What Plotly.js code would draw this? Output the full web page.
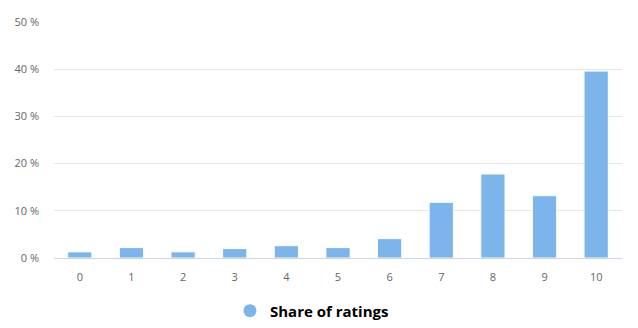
<!DOCTYPE html>
<html>
<head>
<meta charset="utf-8">
<script src="https://cdn.plot.ly/plotly-3.0.1.min.js"></script>
<style>html,body{margin:0;padding:0;background:#fff;}#chart{width:638px;height:328px;}</style>
</head>
<body>
<div id="chart"></div>
<script>
const categories = ["0","1","2","3","4","5","6","7","8","9","10"];
const shareOfRatings = [1.3, 2.2, 1.3, 2.0, 2.6, 2.2, 4.1, 11.8, 17.8, 13.2, 39.6];
const seriesName = "Share of ratings";
const yTickValues = [0, 10, 20, 30, 40, 50];
const yTickLabels = ["0 %", "10 %", "20 %", "30 %", "40 %", "50 %"];

const barColor = "#7cb5ec";
const font = "'Open Sans', 'DejaVu Sans', sans-serif";

const traces = [
  {
    type: "bar",
    x: categories,
    y: shareOfRatings,
    name: seriesName,
    showlegend: false,
    marker: {color: barColor, line: {color: "#ffffff", width: 1}},
    hoverinfo: "x+y"
  },
  {
    type: "scatter",
    mode: "markers",
    x: [null],
    y: [null],
    name: seriesName,
    marker: {color: barColor, size: 13, symbol: "circle"},
    showlegend: true
  }
];

const layout = {
  width: 638,
  height: 328,
  margin: {l: 54, r: 16, t: 22, b: 70},
  paper_bgcolor: "#ffffff",
  plot_bgcolor: "#ffffff",
  bargap: 0.53,
  font: {family: font, color: "#666666", size: 11},
  xaxis: {
    type: "category",
    showgrid: false,
    showline: true,
    linecolor: "#ccd6eb",
    linewidth: 1,
    ticks: "",
    ticklabelstandoff: 9,
    tickfont: {family: font, size: 11, color: "#666666"},
    zeroline: false,
    fixedrange: true
  },
  yaxis: {
    range: [0, 50],
    tickmode: "array",
    tickvals: yTickValues,
    ticktext: yTickLabels,
    showgrid: true,
    gridcolor: "#e6e6e6",
    gridwidth: 1,
    zeroline: false,
    showline: false,
    ticks: "",
    ticklabelstandoff: 14,
    tickfont: {family: font, size: 11, color: "#666666"},
    fixedrange: true
  },
  showlegend: true,
  legend: {
    orientation: "h",
    x: 0.489,
    xanchor: "center",
    xref: "container",
    y: 0.052,
    yanchor: "middle",
    yref: "container",
    font: {family: font, size: 15, color: "#000000", weight: "bold"},
    bgcolor: "rgba(0,0,0,0)"
  }
};

Plotly.newPlot("chart", traces, layout, {displayModeBar: false, staticPlot: true});
</script>
</body>
</html>
